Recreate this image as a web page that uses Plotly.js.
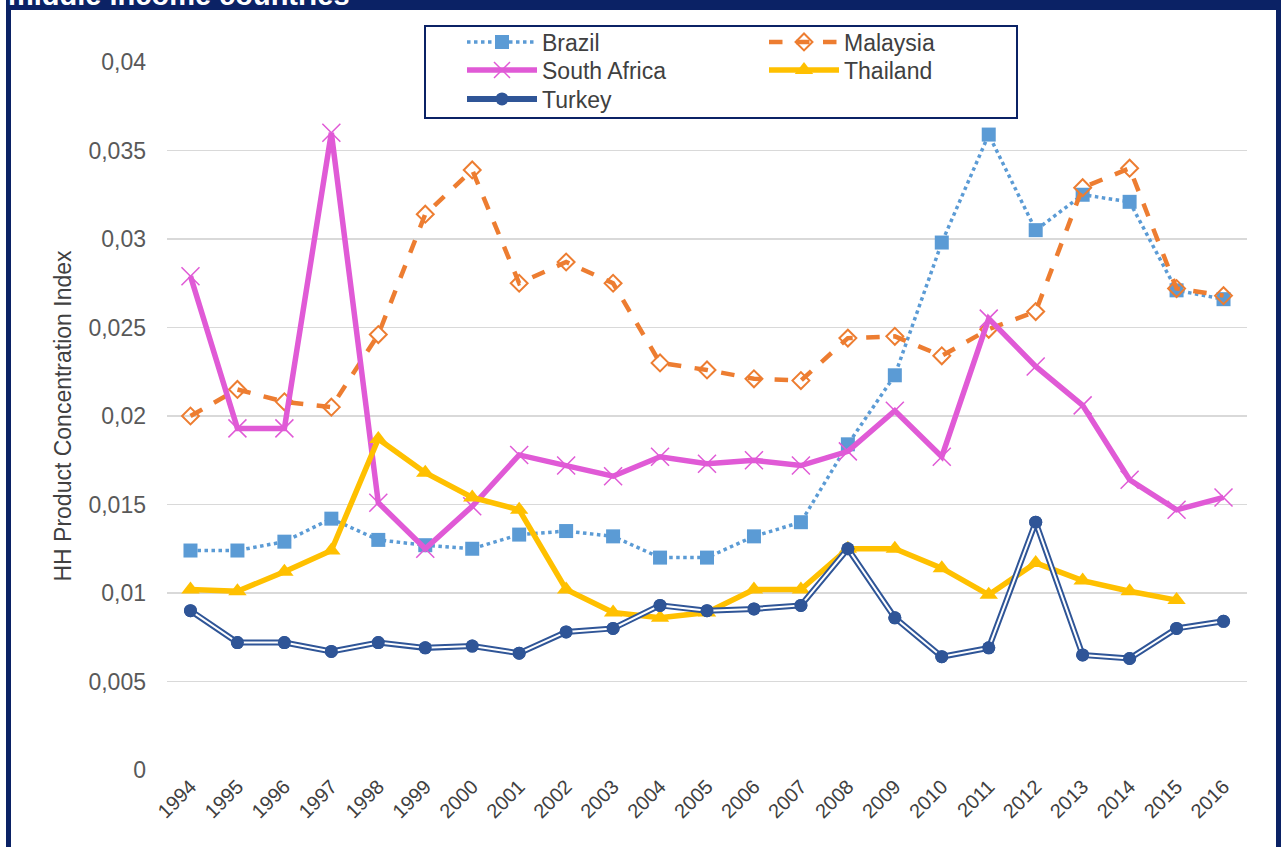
<!DOCTYPE html>
<html>
<head>
<meta charset="utf-8">
<script src="https://cdn.plot.ly/plotly-3.0.1.min.js"></script>
<style>
  html, body { margin: 0; padding: 0; background: #ffffff; }
  #wrap { position: relative; width: 1281px; height: 847px; overflow: hidden; background: #ffffff; }
  #frame { position: absolute; left: 6px; top: 0; width: 1275px; height: 847px; background: #0b2265; }
  #inner { position: absolute; left: 11px; top: 10px; width: 1265px; height: 837px; background: #ffffff; }
  #ttl { position: absolute; left: 0; top: 0; }
  #chart { position: absolute; left: 0; top: 0; width: 1281px; height: 847px; }
</style>
</head>
<body>
<div id="wrap">
  <div id="frame"></div>
  <div id="inner"></div>
  <svg id="ttl" width="1281" height="12"><text x="8" y="5" font-family="Liberation Sans, Arial, sans-serif" font-weight="bold" font-size="29" fill="#ffffff">middle income countries</text></svg>
  <div id="chart"></div>
</div>
<script>
const years = ['1994','1995','1996','1997','1998','1999','2000','2001','2002','2003','2004','2005','2006','2007','2008','2009','2010','2011','2012','2013','2014','2015','2016'];

const brazil = [0.0124,0.0124,0.0129,0.0142,0.0130,0.0127,0.0125,0.0133,0.0135,0.0132,0.0120,0.0120,0.0132,0.0140,0.0184,0.0223,0.0298,0.0359,0.0305,0.0325,0.0321,0.0271,0.0266];
const malaysia = [0.0200,0.0215,0.0208,0.0205,0.0246,0.0314,0.0339,0.0275,0.0287,0.0275,0.0230,0.0226,0.0221,0.0220,0.0244,0.0245,0.0234,0.0249,0.0259,0.0329,0.0340,0.0272,0.0268];
const southAfrica = [0.0279,0.0193,0.0193,0.0360,0.0151,0.0125,0.0149,0.0178,0.0172,0.0166,0.0177,0.0173,0.0175,0.0172,0.0180,0.0203,0.0177,0.0255,0.0228,0.0206,0.0164,0.0147,0.0154];
const thailandYears = ['1994','1995','1996','1997','1998','1999','2000','2001','2002','2003','2004','2005','2006','2007','2008','2009','2010','2011','2012','2013','2014','2015'];
const thailand = [0.0102,0.0101,0.0112,0.0124,0.0187,0.0168,0.0154,0.0147,0.0102,0.0089,0.0086,0.0089,0.0102,0.0102,0.0125,0.0125,0.0114,0.0099,0.0117,0.0107,0.0101,0.0096];
const turkey = [0.0090,0.0072,0.0072,0.0067,0.0072,0.0069,0.0070,0.0066,0.0078,0.0080,0.0093,0.0090,0.0091,0.0093,0.0125,0.0086,0.0064,0.0069,0.0140,0.0065,0.0063,0.0080,0.0084];

const yTickVals = [0,0.005,0.01,0.015,0.02,0.025,0.03,0.035,0.04];
const yTickLabels = ['0','0,005','0,01','0,015','0,02','0,025','0,03','0,035','0,04'];

const navy = '#2F5597';
const traces = [
  {name:'Brazil', legend:'legend', x:years, y:brazil, type:'scatter', mode:'lines+markers',
   line:{color:'#5B9BD5', width:3.5, dash:'dot'},
   marker:{symbol:'square', size:14, color:'#5B9BD5'}},
  {name:'Malaysia', legend:'legend2', x:years, y:malaysia, type:'scatter', mode:'lines+markers',
   line:{color:'#ED7D31', width:4.5, dash:'dash'},
   marker:{symbol:'diamond-open', size:13, color:'#ED7D31', line:{width:2, color:'#ED7D31'}}},
  {name:'South Africa', legend:'legend3', x:years, y:southAfrica, type:'scatter', mode:'lines+markers',
   line:{color:'#E05AD6', width:5.5},
   marker:{symbol:'x-thin', size:18, color:'#E05AD6', line:{width:1.5, color:'#E05AD6'}}},
  {name:'Thailand', legend:'legend4', x:thailandYears, y:thailand, type:'scatter', mode:'lines+markers',
   line:{color:'#FFC000', width:5.5},
   marker:{symbol:'triangle-up', size:16, color:'#FFC000'}},
  {name:'Turkey', legend:'legend5', x:years, y:turkey, type:'scatter', mode:'lines+markers',
   line:{color:navy, width:6},
   marker:{symbol:'circle', size:13, color:navy}},
  {name:'Turkey', x:years, y:turkey, type:'scatter', mode:'lines', showlegend:false, hoverinfo:'skip',
   line:{color:'#ffffff', width:2}},
  {name:'Turkey', x:years, y:turkey, type:'scatter', mode:'markers', showlegend:false,
   marker:{symbol:'circle', size:13, color:navy}}
];

const pl = 167, pr = 1247, pt = 62, pb = 770;
const W = 1281, H = 847;
const px = v => (v - pl) / (pr - pl);
const py = v => (pb - v) / (pb - pt);

function leg(xPix, yPix) {
  return {
    orientation: 'v', x: px(xPix), y: py(yPix), xanchor: 'left', yanchor: 'middle',
    bgcolor: 'rgba(0,0,0,0)', borderwidth: 0,
    font: {size: 23, color: '#404040'},
    itemwidth: 70, itemclick: false
  };
}

const layout = {
  width: W, height: H,
  margin: {l: pl, r: W - pr, t: pt, b: H - pb, pad: 0},
  paper_bgcolor: 'rgba(0,0,0,0)',
  plot_bgcolor: 'rgba(0,0,0,0)',
  font: {family: 'Liberation Sans, Arial, sans-serif', color: '#595959'},
  showlegend: true,
  legend: leg(462, 42),
  legend2: leg(764, 42),
  legend3: leg(462, 70),
  legend4: leg(764, 70),
  legend5: leg(462, 99),
  xaxis: {
    type: 'category', range: [-0.5, 22.5],
    showgrid: false, zeroline: false, showline: false,
    tickangle: -45, tickfont: {size: 20, color: '#404040'},
    ticks: '', fixedrange: true
  },
  yaxis: {
    range: [0, 0.04], tickvals: yTickVals, ticktext: yTickLabels,
    showgrid: true, gridcolor: '#D9D9D9', gridwidth: 1.5,
    zeroline: false, showline: false, ticks: '',
    tickfont: {size: 23, color: '#595959'}, ticklabelstandoff: 20,
    title: {text: 'HH Product Concentration Index', font: {size: 23, color: '#404040'}, standoff: 10},
    fixedrange: true
  },
  shapes: [
    {type: 'rect', xref: 'paper', yref: 'paper', x0: px(425), x1: px(1017), y0: py(118), y1: py(26),
     line: {color: '#0b2265', width: 2}, fillcolor: '#ffffff', layer: 'below'}
  ]
};

Plotly.newPlot('chart', traces, layout, {displayModeBar: false, staticPlot: true});
</script>
</body>
</html>
